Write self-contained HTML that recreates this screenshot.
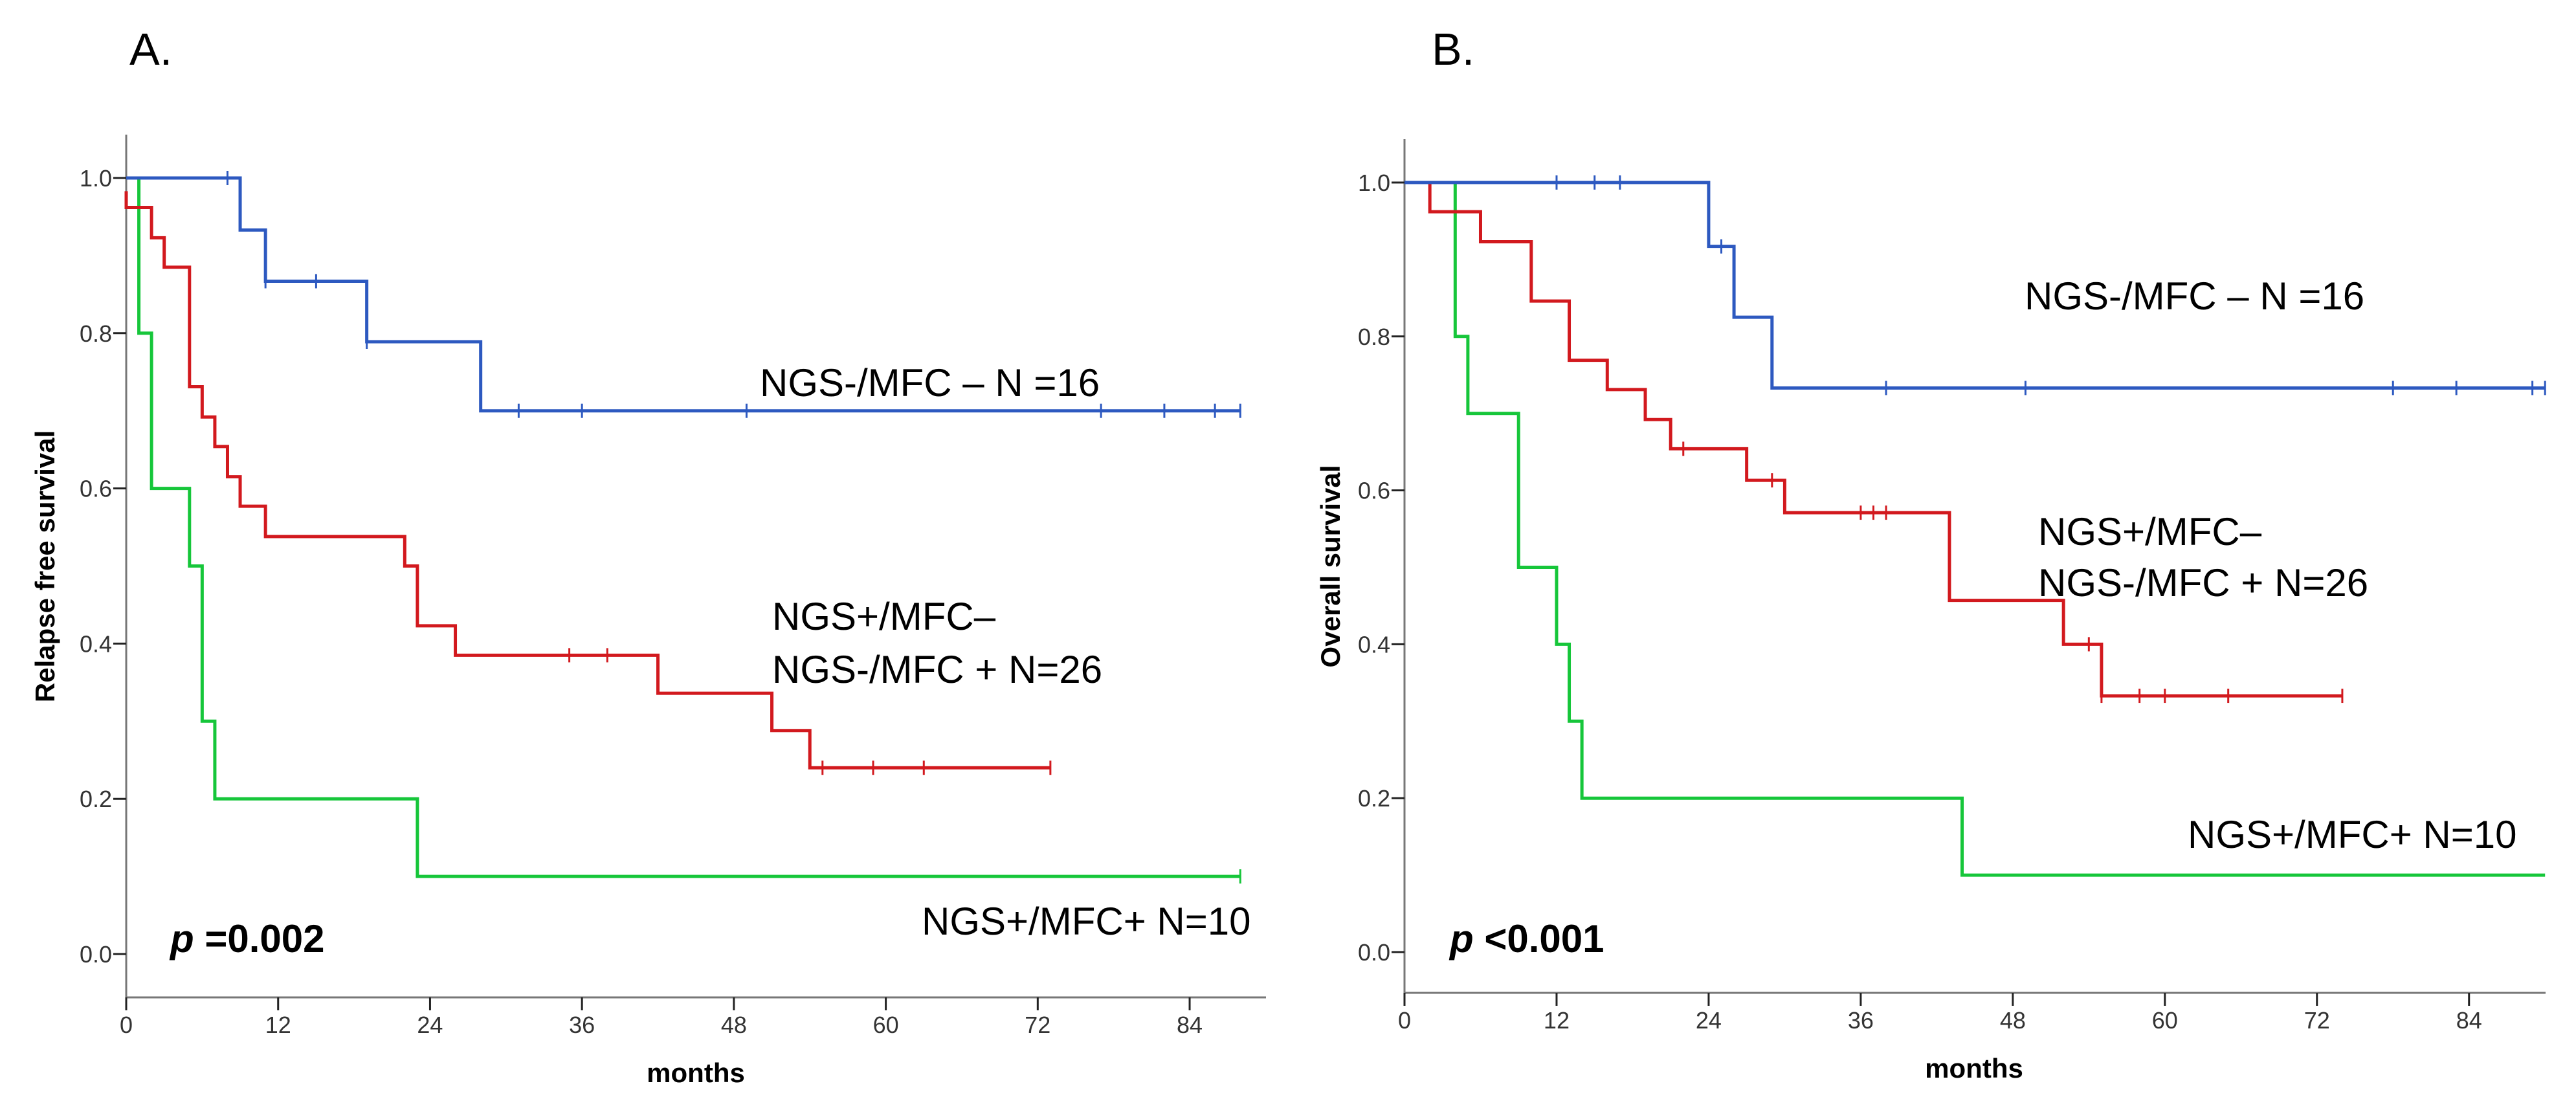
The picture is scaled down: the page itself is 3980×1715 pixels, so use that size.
<!DOCTYPE html>
<html><head><meta charset="utf-8"><style>
body{margin:0;background:#fff}
svg{display:block;font-family:"Liberation Sans",sans-serif}
</style></head><body>
<svg id="chart" width="3980" height="1715" viewBox="0 0 3980 1715"></svg>
<script>
const xTicks=[0,12,24,36,48,60,72,84];
const yTicks=[0.0,0.2,0.4,0.6,0.8,1.0];
// Panel A: relapse free survival
const aBlueT=[9,11,19,28];const aBlueV=[0.933,0.867,0.789,0.70];const aBlueEnd=88;const aBlueCens=[8,11,15,19,31,36,49,77,82,86,88];
const aRedT=[0,2,3,5,6,7,8,9,11,22,23,26,42,51,54];const aRedV=[0.962,0.923,0.885,0.731,0.692,0.654,0.615,0.577,0.538,0.500,0.423,0.385,0.336,0.288,0.240];const aRedStart=0.983;const aRedEnd=73;const aRedCens=[35,38,55,59,63,73];
const aGreenT=[1,2,5,6,7,23];const aGreenV=[0.8,0.6,0.5,0.3,0.2,0.1];const aGreenEnd=88;const aGreenCens=[88];
// Panel B: overall survival
const bBlueT=[24,26,29];const bBlueV=[0.917,0.825,0.733];const bBlueEnd=90;const bBlueCens=[12,15,17,25,38,49,78,83,89,90];
const bRedT=[2,6,10,13,16,19,21,27,30,43,52,55];const bRedV=[0.962,0.923,0.846,0.769,0.731,0.692,0.654,0.613,0.571,0.457,0.40,0.333];const bRedEnd=74;const bRedCens=[22,29,36,37,38,54,55,58,60,65,74];
const bGreenT=[4,5,9,12,13,14,44];const bGreenV=[0.8,0.7,0.5,0.4,0.3,0.2,0.1];const bGreenEnd=90;const bGreenCens=[];

const NS='http://www.w3.org/2000/svg';
const svg=document.getElementById('chart');
function mk(tag,attrs,parent){const e=document.createElementNS(NS,tag);for(const k in attrs)e.setAttribute(k,attrs[k]);(parent||svg).appendChild(e);return e;}

function panel(cfg){
  const g=mk('g',{});
  
  
  const x=m=>cfg.x0+m*cfg.pm, y=v=>cfg.y0-v*(cfg.y0-cfg.y1);
  const ax=mk('path',{d:`M${cfg.x0},${cfg.top}V${cfg.bot}H${cfg.xend}`,stroke:'#777',fill:'none','stroke-width':3},g);
  
  
  xTicks.forEach(t=>{
    mk('line',{x1:x(t),x2:x(t),y1:cfg.bot,y2:cfg.bot+20,stroke:'#222','stroke-width':3},g);
    const tx=mk('text',{x:x(t),y:cfg.bot+55,'font-size':36,'text-anchor':'middle',fill:'#333'},g);tx.textContent=t;
    
    
  });
  yTicks.forEach(t=>{
    mk('line',{x1:cfg.x0-20,x2:cfg.x0,y1:y(t),y2:y(t),stroke:'#222','stroke-width':3},g);
    const tx=mk('text',{x:cfg.x0-22,y:y(t)+13,'font-size':36,'text-anchor':'end',fill:'#333'},g);tx.textContent=t.toFixed(1);
    
    
  });
  cfg.series.forEach(s=>{
    let v=s.start,d=`M${x(0)},${y(v)}`;
    s.t.forEach((t,i)=>{d+=`H${x(t)}V${y(s.v[i])}`;v=s.v[i];});
    d+=`H${x(s.end)}`;
    const p=mk('path',{d,stroke:s.c,fill:'none','stroke-width':5},g);
    
    
    s.cens.forEach(c=>{
      let val=s.start;s.t.forEach((t,i)=>{if(t<=c)val=s.v[i];});
      const m=mk('line',{x1:x(c),x2:x(c),y1:y(val)-11,y2:y(val)+11,stroke:s.c,'stroke-width':3},g);
      
      
    });
  });
  cfg.texts.forEach(t=>{
    const e=mk('text',{x:t.x,y:t.y,'font-size':t.fs,'font-weight':t.b?'bold':'normal','text-anchor':t.a||'start',fill:'#000',transform:t.r?`rotate(-90 ${t.x} ${t.y})`:''},g);
    if(t.html)e.innerHTML=t.html;else e.textContent=t.s;
    
    
  });
}
const BLUE='#2d59c0',RED='#d2191e',GREEN='#16c63a';
panel({name:'panel-a',x0:195,pm:19.56,y0:1474,y1:275,top:208,bot:1541,xend:1956,
 series:[
  {name:'green-series',c:GREEN,start:1,t:aGreenT,v:aGreenV,end:aGreenEnd,cens:aGreenCens},
  {name:'red-series',c:RED,start:aRedStart,t:aRedT,v:aRedV,end:aRedEnd,cens:aRedCens},
  {name:'blue-series',c:BLUE,start:1,t:aBlueT,v:aBlueV,end:aBlueEnd,cens:aBlueCens}],
 texts:[
  {n:'panel-label',s:'A.',x:200,y:100,fs:70},
  {n:'y-axis-title',s:'Relapse free survival',x:84,y:875,fs:42,b:1,r:1,a:'middle'},
  {n:'x-axis-title',s:'months',x:1075,y:1672,fs:42,b:1,a:'middle'},
  {n:'label-blue',s:'NGS-/MFC – N =16',x:1174,y:612,fs:60},
  {n:'label-red-line1',s:'NGS+/MFC–',x:1193,y:973,fs:60},
  {n:'label-red-line2',s:'NGS-/MFC + N=26',x:1193,y:1055,fs:60},
  {n:'label-green',s:'NGS+/MFC+ N=10',x:1424,y:1444,fs:60},
  {n:'p-value',html:'<tspan font-style="italic">p</tspan> =0.002',x:263,y:1471,fs:60,b:1}]
});
panel({name:'panel-b',x0:2170,pm:19.58,y0:1471,y1:282,top:215,bot:1534,xend:3933,
 series:[
  {name:'green-series',c:GREEN,start:1,t:bGreenT,v:bGreenV,end:bGreenEnd,cens:bGreenCens},
  {name:'red-series',c:RED,start:1,t:bRedT,v:bRedV,end:bRedEnd,cens:bRedCens},
  {name:'blue-series',c:BLUE,start:1,t:bBlueT,v:bBlueV,end:bBlueEnd,cens:bBlueCens}],
 texts:[
  {n:'panel-label',s:'B.',x:2212,y:100,fs:70},
  {n:'y-axis-title',s:'Overall survival',x:2070,y:875,fs:42,b:1,r:1,a:'middle'},
  {n:'x-axis-title',s:'months',x:3050,y:1665,fs:42,b:1,a:'middle'},
  {n:'label-blue',s:'NGS-/MFC – N =16',x:3128,y:478,fs:60},
  {n:'label-red-line1',s:'NGS+/MFC–',x:3149,y:842,fs:60},
  {n:'label-red-line2',s:'NGS-/MFC + N=26',x:3149,y:921,fs:60},
  {n:'label-green',s:'NGS+/MFC+ N=10',x:3380,y:1310,fs:60},
  {n:'p-value',html:'<tspan font-style="italic">p</tspan> &lt;0.001',x:2240,y:1471,fs:60,b:1}]
});
</script>
</body></html>
